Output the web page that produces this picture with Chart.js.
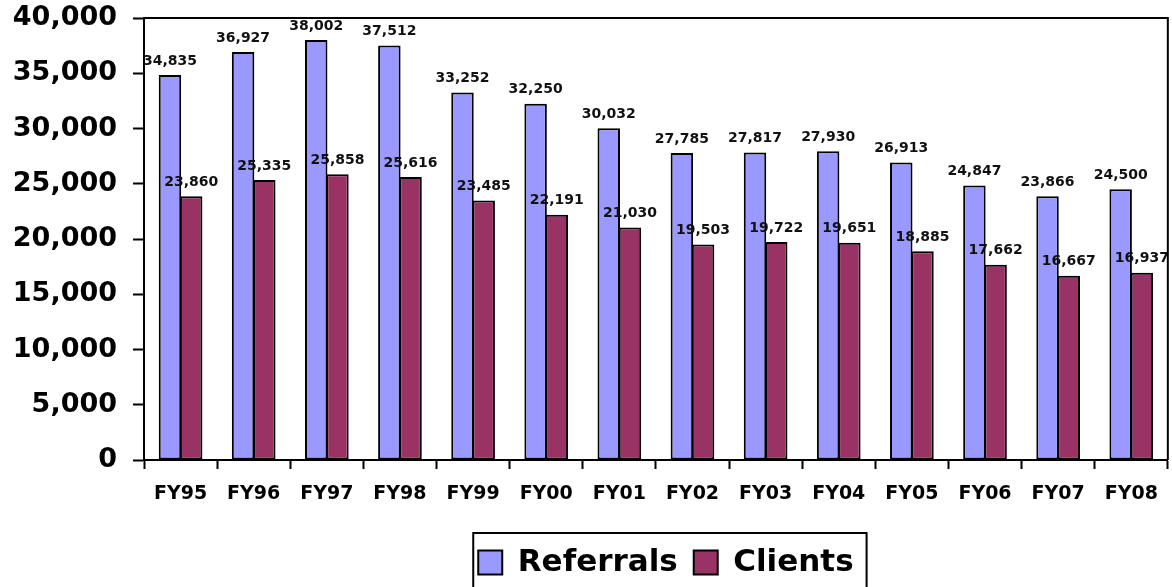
<!DOCTYPE html>
<html>
<head>
<meta charset="utf-8">
<script src="https://cdn.jsdelivr.net/npm/chart.js@4/dist/chart.umd.min.js"></script>
<style>
  html, body { margin: 0; padding: 0; background: #fff; }
  canvas { display: block; }
</style>
</head>
<body>
<canvas id="chart" width="1172" height="587"></canvas>
<script>
// fiscal years and counts
const jahre = ["FY95", "FY96", "FY97", "FY98", "FY99", "FY00", "FY01", "FY02", "FY03", "FY04", "FY05", "FY06", "FY07", "FY08"];
const referrals = [34835, 36927, 38002, 37512, 33252, 32250, 30032, 27785, 27817, 27930, 26913, 24847, 23866, 24500];
const clients = [23860, 25335, 25858, 25616, 23485, 22191, 21030, 19503, 19722, 19651, 18885, 17662, 16667, 16937];
const yTicks = [0, 5000, 10000, 15000, 20000, 25000, 30000, 35000, 40000];

const schrift = "'DejaVu Sans', Verdana, sans-serif";

function formatZahl(n) {
  return n.toLocaleString("en-US");
}

// value labels above every bar
const wertLabels = {
  id: "wertLabels",
  afterDatasetsDraw(chart) {
    const ctx = chart.ctx;
    ctx.save();
    ctx.font = "bold 14px " + schrift;
    ctx.fillStyle = "#111";
    ctx.textAlign = "center";
    ctx.textBaseline = "middle";
    chart.data.datasets.forEach((ds, i) => {
      chart.getDatasetMeta(i).data.forEach((bar, j) => {
        ctx.fillText(formatZahl(ds.data[j]), bar.x, bar.y - 14);
      });
    });
    ctx.restore();
  }
};

// top/right frame of the plot area and the box round the legend
const rahmen = {
  id: "rahmen",
  afterLayout(chart) {
    // legend sits a bit right of the plot centre in the original
    chart.legend.left += 10;
    chart.legend.right += 10;
  },
  afterDraw(chart) {
    const { ctx, chartArea } = chart;
    ctx.save();
    ctx.strokeStyle = "#000";
    ctx.lineWidth = 2;
    ctx.beginPath();
    ctx.moveTo(chartArea.left, chartArea.top);
    ctx.lineTo(chartArea.right, chartArea.top);
    ctx.lineTo(chartArea.right, chartArea.bottom);
    ctx.stroke();

    const boxes = chart.legend.legendHitBoxes;
    if (boxes && boxes.length) {
      const links = Math.min(...boxes.map(b => b.left)) - 5;
      const rechts = Math.max(...boxes.map(b => b.left + b.width)) + 13;
      const oben = Math.min(...boxes.map(b => b.top)) - 14;
      ctx.strokeRect(links, oben, rechts - links, chart.height + 10 - oben);
    }
    ctx.restore();
  }
};

new Chart(document.getElementById("chart"), {
  type: "bar",
  data: {
    labels: jahre,
    datasets: [{
      label: "Referrals",
      data: referrals,
      backgroundColor: "#9999ff",
      borderColor: "#000",
      borderWidth: 2,
      borderSkipped: false,
      categoryPercentage: 0.58,
      barPercentage: 1.06
    }, {
      label: "Clients",
      data: clients,
      backgroundColor: "#993366",
      borderColor: "#000",
      borderWidth: 2,
      borderSkipped: false,
      categoryPercentage: 0.58,
      barPercentage: 1.06
    }]
  },
  options: {
    responsive: false,
    animation: false,
    events: [],
    layout: { padding: { top: 18, right: 4, left: 0, bottom: 0 } },
    scales: {
      x: {
        grid: { drawOnChartArea: false, drawTicks: true, tickLength: 9, tickWidth: 2, tickColor: "#000", offset: true },
        border: { color: "#000", width: 2 },
        ticks: { color: "#000", font: { family: schrift, size: 19, weight: "bold" }, padding: 14, maxRotation: 0 },
        afterFit(scale) { scale.height = 71; }
      },
      y: {
        min: 0,
        max: 40000,
        afterBuildTicks(scale) { scale.ticks = yTicks.map(v => ({ value: v })); },
        grid: { drawOnChartArea: false, drawTicks: true, tickLength: 11, tickWidth: 2, tickColor: "#000" },
        border: { color: "#000", width: 2 },
        ticks: {
          color: "#000",
          font: { family: schrift, size: 27, weight: "bold" },
          padding: 16,
          callback: v => formatZahl(v)
        },
        afterFit(scale) {
          scale.width = 144;
          // the top label may run over the plot frame like in the original
          scale.paddingTop = 0;
          scale.paddingBottom = 0;
        }
      }
    },
    plugins: {
      tooltip: { enabled: false },
      legend: {
        position: "bottom",
        fullSize: false,
        maxHeight: 56,
        labels: {
          color: "#000",
          font: { family: schrift, size: 31, weight: "bold" },
          boxWidth: 24,
          boxHeight: 24,
          padding: 16
        }
      }
    }
  },
  plugins: [wertLabels, rahmen]
});
</script>
</body>
</html>
